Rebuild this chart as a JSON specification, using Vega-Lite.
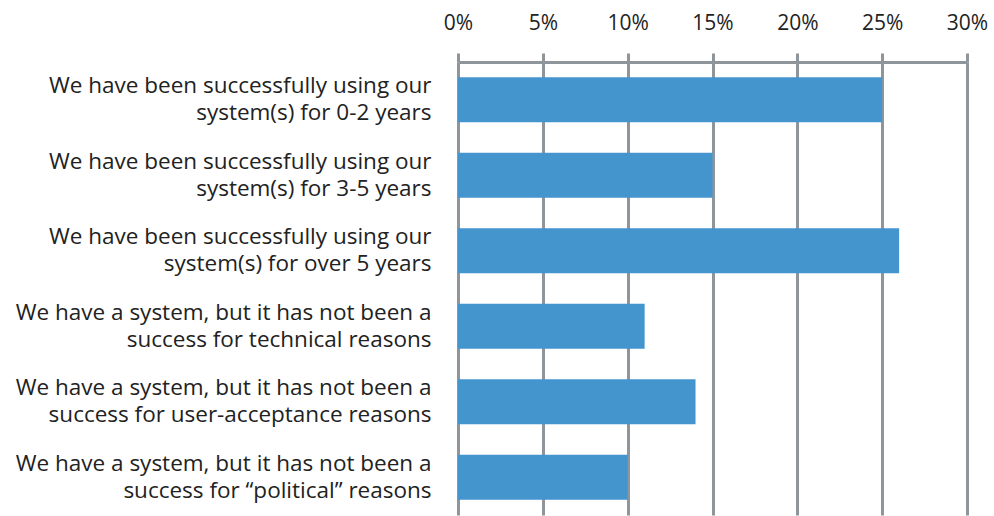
{
  "$schema": "https://vega.github.io/schema/vega-lite/v6.json",
  "autosize": {"type": "none"},
  "padding": {"left": 458, "top": 62, "right": 27, "bottom": 1},
  "width": 509,
  "height": 453,
  "background": "white",
  "data": {
    "values": [
      {"label": "We have been successfully using our|system(s)  for 0-2 years", "value": 0.25},
      {"label": "We have been successfully using our|system(s)  for 3-5 years  ", "value": 0.15},
      {"label": "We have been successfully using our|system(s)  for over 5 years", "value": 0.26},
      {"label": "We have a system,  but it has not been a|success for technical reasons ", "value": 0.11},
      {"label": "We have a system,  but it has not been a|success for user-acceptance reasons", "value": 0.14},
      {"label": "We have a system,  but it has not been a|success for “political”  reasons", "value": 0.10}
    ]
  },
  "mark": {"type": "bar", "color": "#4495CE"},
  "encoding": {
    "y": {
      "field": "label",
      "type": "nominal",
      "sort": null,
      "scale": {"paddingInner": 0.404, "paddingOuter": 0.202},
      "axis": {
        "title": null,
        "labelExpr": "split(datum.label, '|')",
        "labelFont": "Open Sans",
        "labelFontSize": 22.5,
        "labelColor": "#222222",
        "labelLineHeight": 27,
        "labelOffset": -13.5,
        "labelPadding": 27,
        "labelLimit": 500,
        "ticks": false,
        "domain": false,
        "grid": false
      }
    },
    "x": {
      "field": "value",
      "type": "quantitative",
      "scale": {"domain": [0, 0.3], "nice": false},
      "axis": {
        "orient": "top",
        "title": null,
        "values": [0, 0.05, 0.1, 0.15, 0.2, 0.25, 0.3],
        "format": ".0%",
        "labelFont": "Open Sans",
        "labelFontSize": 21,
        "labelColor": "#222222",
        "labelPadding": 20,
        "labelFlush": false,
        "tickSize": 9,
        "tickWidth": 3,
        "tickColor": "#8E959B",
        "domainColor": "#8E959B",
        "domainWidth": 3,
        "grid": true,
        "gridColor": "#8E959B",
        "gridWidth": 3,
        "gridOpacity": 1
      }
    }
  },
  "config": {"view": {"stroke": null}}
}
